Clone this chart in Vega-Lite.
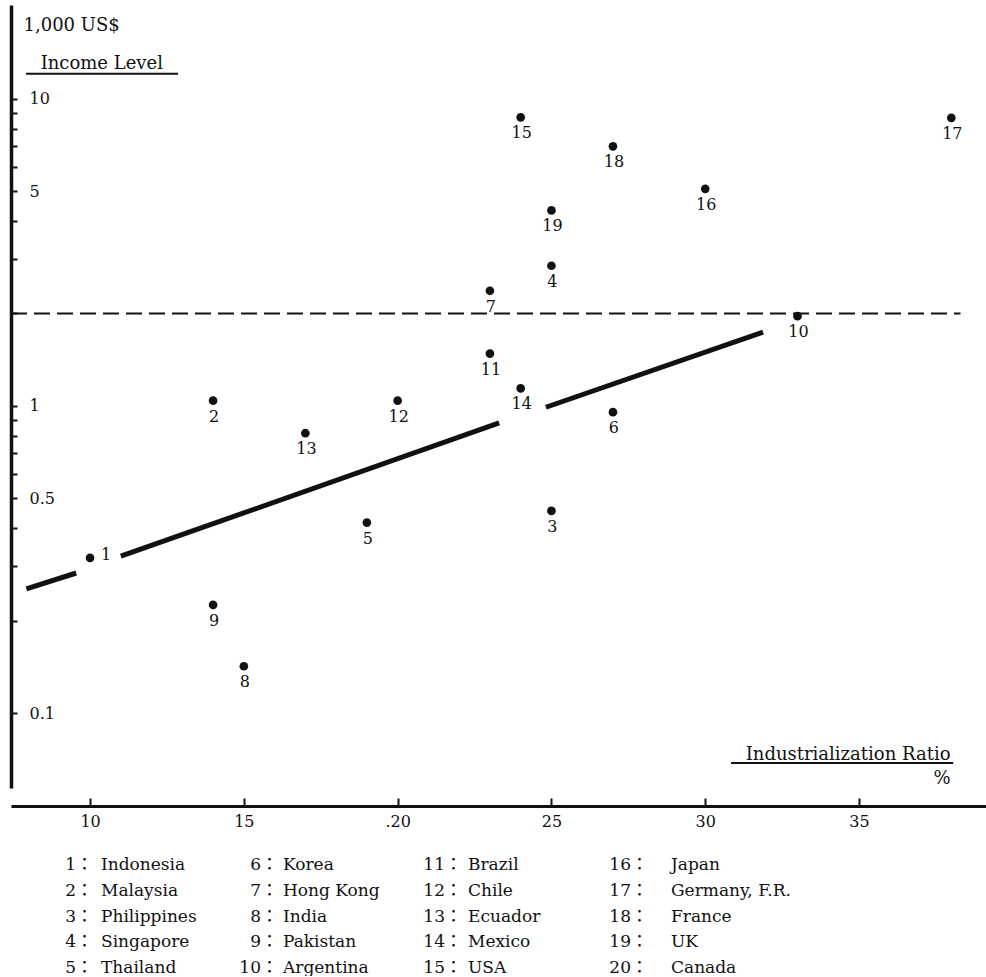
{
  "$schema": "https://vega.github.io/schema/vega-lite/v6.json",
  "width": 976,
  "height": 783,
  "padding": {"left": 10, "top": 5, "right": 0, "bottom": 0},
  "background": "white",
  "config": {"view": {"stroke": null}, "font": "DejaVu Serif"},
  "datasets": {
    "countries": [
      {"num": 1, "name": "Indonesia", "ratio": 10, "income": 0.32},
      {"num": 2, "name": "Malaysia", "ratio": 14, "income": 1.04},
      {"num": 3, "name": "Philippines", "ratio": 25, "income": 0.455},
      {"num": 4, "name": "Singapore", "ratio": 25, "income": 2.86},
      {"num": 5, "name": "Thailand", "ratio": 19, "income": 0.417},
      {"num": 6, "name": "Korea", "ratio": 27, "income": 0.954},
      {"num": 7, "name": "Hong Kong", "ratio": 23, "income": 2.37},
      {"num": 8, "name": "India", "ratio": 15, "income": 0.142},
      {"num": 9, "name": "Pakistan", "ratio": 14, "income": 0.225},
      {"num": 10, "name": "Argentina", "ratio": 33, "income": 1.96},
      {"num": 11, "name": "Brazil", "ratio": 23, "income": 1.48},
      {"num": 12, "name": "Chile", "ratio": 20, "income": 1.04},
      {"num": 13, "name": "Ecuador", "ratio": 17, "income": 0.815},
      {"num": 14, "name": "Mexico", "ratio": 24, "income": 1.14},
      {"num": 15, "name": "USA", "ratio": 24, "income": 8.7},
      {"num": 16, "name": "Japan", "ratio": 30, "income": 5.09},
      {"num": 17, "name": "Germany, F.R.", "ratio": 38, "income": 8.67},
      {"num": 18, "name": "France", "ratio": 27, "income": 7.0},
      {"num": 19, "name": "UK", "ratio": 25, "income": 4.33},
      {"num": 20, "name": "Canada", "ratio": null, "income": null}
    ],
    "trend": [
      {"seg": 1, "ratio": 7.93, "income": 0.2535},
      {"seg": 1, "ratio": 9.55, "income": 0.2857},
      {"seg": 2, "ratio": 11.0, "income": 0.324},
      {"seg": 2, "ratio": 23.3, "income": 0.88},
      {"seg": 3, "ratio": 24.82, "income": 0.99},
      {"seg": 3, "ratio": 31.88, "income": 1.74}
    ]
  },
  "layer": [
    {
      "layer": [
        {
          "data": {"values": [{}]},
          "mark": {"type": "rule", "strokeDash": [16, 7], "strokeWidth": 2, "color": "#111"},
          "encoding": {
            "x": {"datum": 7.43, "type": "quantitative", "scale": {"domain": [7.43, 39.16], "nice": false, "zero": false}},
            "x2": {"datum": 38.3},
            "y": {"datum": 2, "type": "quantitative", "scale": {"type": "log", "domain": [0.057, 20.2], "nice": false}}
          }
        },
        {
          "data": {"values": [{}]},
          "mark": {"type": "rule", "strokeWidth": 2, "color": "#111"},
          "encoding": {
            "x": {"datum": 7.92, "type": "quantitative", "scale": {"domain": [7.43, 39.16], "nice": false, "zero": false}},
            "x2": {"datum": 12.86},
            "y": {"datum": 12.06, "type": "quantitative", "scale": {"type": "log", "domain": [0.057, 20.2], "nice": false}}
          }
        },
        {
          "data": {"values": [{}]},
          "mark": {"type": "rule", "strokeWidth": 2, "color": "#111"},
          "encoding": {
            "x": {"datum": 30.84, "type": "quantitative", "scale": {"domain": [7.43, 39.16], "nice": false, "zero": false}},
            "x2": {"datum": 38.06},
            "y": {"datum": 0.0687, "type": "quantitative", "scale": {"type": "log", "domain": [0.057, 20.2], "nice": false}}
          }
        },
        {
          "data": {"name": "trend"},
          "mark": {"type": "line", "strokeWidth": 5, "color": "#111", "strokeCap": "butt"},
          "encoding": {
            "x": {"field": "ratio", "type": "quantitative", "scale": {"domain": [7.43, 39.16], "nice": false, "zero": false}},
            "y": {"field": "income", "type": "quantitative", "scale": {"type": "log", "domain": [0.057, 20.2], "nice": false}},
            "detail": {"field": "seg"}
          }
        },
        {
          "data": {"name": "countries"},
          "transform": [{"filter": "isValid(datum.income)"}],
          "mark": {"type": "point", "filled": true, "size": 75, "color": "#111", "opacity": 1},
          "encoding": {
            "x": {
              "field": "ratio", "type": "quantitative",
              "scale": {"domain": [7.43, 39.16], "nice": false, "zero": false},
              "axis": {
                "values": [10, 15, 20, 25, 30, 35],
                "labelExpr": "datum.value == 20 ? '.20' : datum.label",
                "offset": 18,
                "grid": false,
                "domainWidth": 3,
                "domainColor": "#111",
                "tickSize": -8,
                "tickWidth": 2,
                "tickColor": "#111",
                "labelPadding": 15,
                "labelFont": "DejaVu Serif",
                "labelFontSize": 16,
                "labelColor": "#111",
                "labelFlush": false,
                "labelOverlap": false,
                "title": ["Industrialization Ratio", "%"],
                "titleX": 939,
                "titleY": -61,
                "titleAlign": "right",
                "titleAnchor": null,
                "titleBaseline": "top",
                "titleFont": "DejaVu Serif",
                "titleFontSize": 18,
                "titleFontWeight": "normal",
                "titleLineHeight": 24,
                "titleColor": "#111"
              }
            },
            "y": {
              "field": "income", "type": "quantitative",
              "scale": {"type": "log", "domain": [0.057, 20.2], "nice": false},
              "axis": {
                "values": [0.1, 0.2, 0.3, 0.4, 0.5, 0.6, 0.7, 0.8, 0.9, 1, 2, 3, 4, 5, 6, 7, 8, 9, 10],
                "labelExpr": "datum.value == 0.1 ? '0.1' : datum.value == 0.5 ? '0.5' : datum.value == 1 ? '1' : datum.value == 5 ? '5' : datum.value == 10 ? '10' : ''",
                "grid": false,
                "domainWidth": 3.5,
                "domainColor": "#111",
                "tickSize": -6,
                "tickWidth": 2,
                "tickColor": "#111",
                "labelPadding": -12,
                "labelAlign": "left",
                "labelBaseline": "middle",
                "labelFont": "DejaVu Serif",
                "labelFontSize": 16,
                "labelColor": "#111",
                "labelOverlap": false,
                "labelBound": false,
                "labelFlush": false,
                "title": ["1,000 US$", "\u200b\u00a0\u00a0\u00a0Income Level"],
                "titleAngle": 0,
                "titleAlign": "left",
                "titleAnchor": null,
                "titleBaseline": "top",
                "titleX": 12,
                "titleY": 11,
                "titleFont": "DejaVu Serif",
                "titleFontSize": 18,
                "titleFontWeight": "normal",
                "titleLineHeight": 38,
                "titleColor": "#111"
              }
            }
          }
        },
        {
          "data": {"name": "countries"},
          "transform": [{"filter": "isValid(datum.income) && datum.num != 1"}],
          "mark": {"type": "text", "dy": 16, "dx": 1, "baseline": "middle", "align": "center", "fontSize": 16, "font": "DejaVu Serif", "color": "#111"},
          "encoding": {
            "x": {"field": "ratio", "type": "quantitative", "scale": {"domain": [7.43, 39.16], "nice": false, "zero": false}},
            "y": {"field": "income", "type": "quantitative", "scale": {"type": "log", "domain": [0.057, 20.2], "nice": false}},
            "text": {"field": "num"}
          }
        },
        {
          "data": {"name": "countries"},
          "transform": [{"filter": "datum.num == 1"}],
          "mark": {"type": "text", "dy": -3, "dx": 11, "baseline": "middle", "align": "left", "fontSize": 16, "font": "DejaVu Serif", "color": "#111"},
          "encoding": {
            "x": {"field": "ratio", "type": "quantitative", "scale": {"domain": [7.43, 39.16], "nice": false, "zero": false}},
            "y": {"field": "income", "type": "quantitative", "scale": {"type": "log", "domain": [0.057, 20.2], "nice": false}},
            "text": {"field": "num"}
          }
        }
      ]
    },
    {
      "data": {"name": "countries"},
      "transform": [
        {"calculate": "floor((datum.num - 1) / 5)", "as": "col"},
        {"calculate": "(datum.num - 1) % 5", "as": "row"},
        {"calculate": "datum.num + '：'", "as": "numLabel"}
      ],
      "layer": [
        {
          "mark": {"type": "text", "align": "right", "baseline": "middle", "fontSize": 17, "font": "DejaVu Serif, Noto Sans CJK JP", "color": "#111"},
          "encoding": {
            "x": {"field": "col", "type": "quantitative", "scale": {"domain": [0, 1, 2, 3], "range": [82, 267, 451, 637]}, "axis": null},
            "y": {"field": "row", "type": "quantitative", "scale": {"domain": [0, 4], "range": [860, 963]}, "axis": null},
            "text": {"field": "numLabel"}
          }
        },
        {
          "mark": {"type": "text", "align": "left", "baseline": "middle", "fontSize": 17, "font": "DejaVu Serif", "color": "#111"},
          "encoding": {
            "x": {"field": "col", "type": "quantitative", "scale": {"domain": [0, 1, 2, 3], "range": [90, 272, 457, 660]}, "axis": null},
            "y": {"field": "row", "type": "quantitative", "scale": {"domain": [0, 4], "range": [860, 963]}, "axis": null},
            "text": {"field": "name"}
          }
        }
      ],
      "resolve": {"scale": {"x": "independent"}}
    }
  ],
  "resolve": {"scale": {"x": "independent", "y": "independent"}}
}
